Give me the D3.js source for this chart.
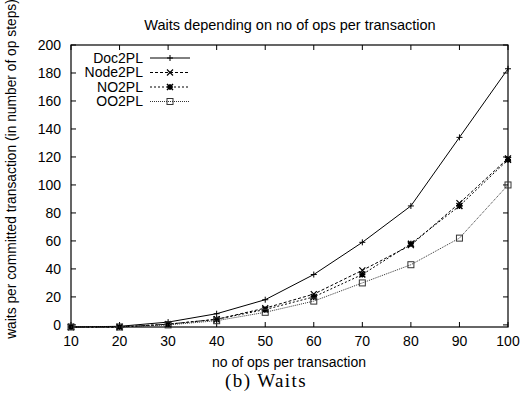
<!DOCTYPE html>
<meta charset="utf-8">
<style>
  body { margin: 0; background: #fff; }
  text { font-family: "Liberation Sans", Arial, sans-serif; }
</style>
<script src="https://d3js.org/d3.v7.min.js"></script>
<div id="chart"></div>
<script>
// data
var ops = [10, 20, 30, 40, 50, 60, 70, 80, 90, 100];
var doc2pl  = [-1.5, -1, 2, 8, 18, 36, 59, 85, 134, 183];
var node2pl = [-1.5, -1.5, 0.5, 4, 12, 22, 39, 57, 87, 119];
var no2pl   = [-1.5, -1.5, 0.5, 4, 11, 20, 36, 58, 85, 118];
var oo2pl   = [-1.5, -1.5, 0, 3, 9, 17, 30, 43, 62, 100];
var yTicks = [0, 20, 40, 60, 80, 100, 120, 140, 160, 180, 200];

var series = [
  {name: "Doc2PL",  values: doc2pl,  dash: null,  color: "#000", marker: "plus"},
  {name: "Node2PL", values: node2pl, dash: "3,2", color: "#000", marker: "cross"},
  {name: "NO2PL",   values: no2pl,   dash: "2,2", color: "#000", marker: "star"},
  {name: "OO2PL",   values: oo2pl,   dash: "1,1", color: "#333", marker: "square"}
];

var W = 523, H = 396;
var margin = {top: 45, right: 15, bottom: 69, left: 71};
var width = W - margin.left - margin.right,
    height = H - margin.top - margin.bottom;

var svg = d3.select("#chart").append("svg")
    .attr("width", W).attr("height", H);

var g = svg.append("g")
    .attr("transform", "translate(" + margin.left + "," + margin.top + ")");

var x = d3.scaleLinear().domain([10, 100]).range([0, width]);
var y = d3.scaleLinear().domain([-1.5, 200]).range([height, 0]);

// ticks, mirrored on all four sides (inward)
var tl = 5;
g.selectAll(".xt").data(ops).enter().append("g").each(function(d) {
  var s = d3.select(this);
  s.append("line").attr("x1", x(d)).attr("x2", x(d)).attr("y1", height).attr("y2", height - tl).attr("stroke", "#000");
  s.append("line").attr("x1", x(d)).attr("x2", x(d)).attr("y1", 0).attr("y2", tl).attr("stroke", "#000");
  s.append("text").attr("x", x(d)).attr("y", height + 19).attr("text-anchor", "middle")
    .style("font-size", "14px").text(d);
});
g.selectAll(".yt").data(yTicks).enter().append("g").each(function(d) {
  var s = d3.select(this);
  s.append("line").attr("x1", 0).attr("x2", tl).attr("y1", y(d)).attr("y2", y(d)).attr("stroke", "#000");
  s.append("line").attr("x1", width).attr("x2", width - tl).attr("y1", y(d)).attr("y2", y(d)).attr("stroke", "#000");
  s.append("text").attr("x", -10).attr("y", y(d)).attr("dy", "0.35em").attr("text-anchor", "end")
    .style("font-size", "14px").text(d);
});

g.append("rect").attr("width", width).attr("height", height)
  .attr("fill", "none").attr("stroke", "#000").attr("stroke-width", 1.2);

// lines
var line = d3.line()
  .x(function(d, i) { return x(ops[i]); })
  .y(function(d) { return y(d); });

function drawMarker(sel, type, cx, cy, color) {
  var r = 3;
  if (type == "plus") {
    sel.append("path").attr("d", "M" + (cx - r) + "," + cy + "h" + 2 * r + "M" + cx + "," + (cy - r) + "v" + 2 * r)
      .attr("stroke", color).attr("fill", "none");
  } else if (type == "cross") {
    sel.append("path").attr("d", "M" + (cx - r) + "," + (cy - r) + "l" + 2 * r + "," + 2 * r + "M" + (cx - r) + "," + (cy + r) + "l" + 2 * r + "," + (-2 * r))
      .attr("stroke", color).attr("fill", "none").attr("stroke-width", 1.2);
  } else if (type == "star") {
    sel.append("path").attr("d", "M" + (cx - r) + "," + (cy - r) + "l" + 2 * r + "," + 2 * r + "M" + (cx - r) + "," + (cy + r) + "l" + 2 * r + "," + (-2 * r) +
        "M" + (cx - r) + "," + cy + "h" + 2 * r + "M" + cx + "," + (cy - r) + "v" + 2 * r)
      .attr("stroke", color).attr("fill", "none").attr("stroke-width", 1.5);
  } else {
    sel.append("rect").attr("x", cx - r).attr("y", cy - r).attr("width", 2 * r).attr("height", 2 * r)
      .attr("stroke", color).attr("fill", "none");
  }
}

series.forEach(function(s) {
  g.append("path").datum(s.values)
    .attr("d", line)
    .attr("fill", "none")
    .attr("stroke", s.color)
    .attr("stroke-width", 1)
    .attr("stroke-dasharray", s.dash);
  var mg = g.append("g");
  s.values.forEach(function(v, i) { drawMarker(mg, s.marker, x(ops[i]), y(v), s.color); });
});

// legend
var legend = svg.append("g");
series.forEach(function(s, i) {
  var ly = 58 + i * 14.5;
  legend.append("text").attr("x", 143).attr("y", ly).attr("dy", "0.35em")
    .attr("text-anchor", "end").style("font-size", "14px").text(s.name);
  legend.append("line").attr("x1", 150).attr("x2", 190).attr("y1", ly).attr("y2", ly)
    .attr("stroke", s.color).attr("stroke-dasharray", s.dash);
  drawMarker(legend, s.marker, 170, ly, s.color);
});

// titles
svg.append("text").attr("x", 290).attr("y", 25).attr("dy", "0.35em")
  .attr("text-anchor", "middle").style("font-size", "14.5px")
  .text("Waits depending on no of ops per transaction");

svg.append("text").attr("x", 289).attr("y", 362).attr("dy", "0.35em")
  .attr("text-anchor", "middle").style("font-size", "14px")
  .text("no of ops per transaction");

svg.append("text")
  .attr("transform", "translate(11,169) rotate(-90)")
  .attr("dy", "0.35em").attr("text-anchor", "middle").style("font-size", "13.8px")
  .text("waits per committed transaction (in number of op steps)");

svg.append("text").attr("x", 266).attr("y", 380).attr("dy", "0.35em")
  .attr("text-anchor", "middle")
  .style("font-family", "'Liberation Serif', 'Times New Roman', serif")
  .style("font-size", "19px").style("letter-spacing", "1.4px")
  .text("(b) Waits");
</script>
